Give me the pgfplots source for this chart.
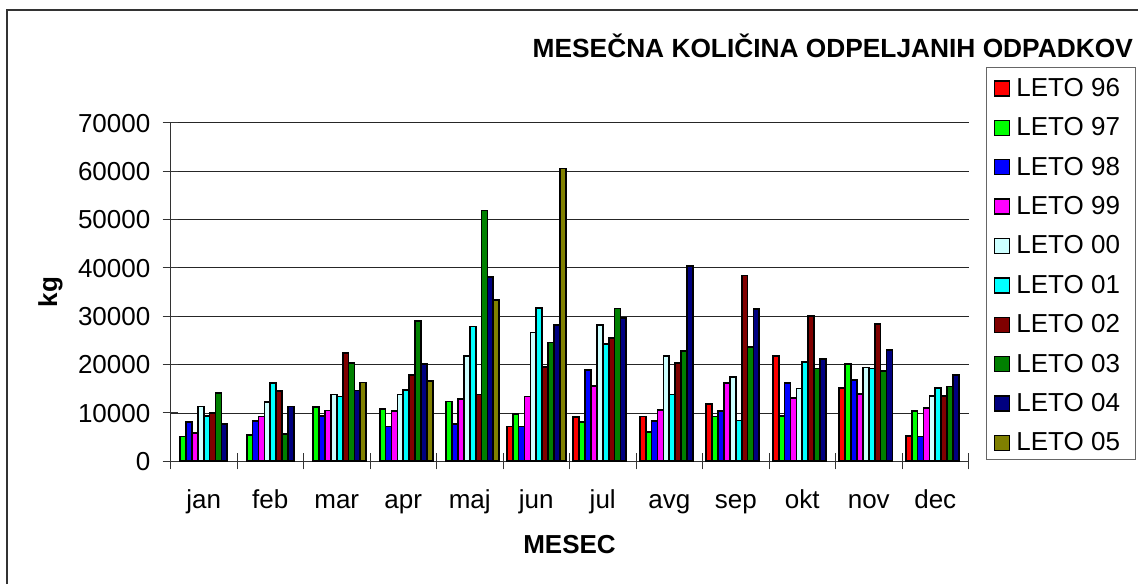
\documentclass[border=0pt]{standalone}
\usepackage{fontspec}
\setmainfont{Liberation Sans}
\usepackage{pgfplots}
\pgfplotsset{compat=1.18}
\definecolor{c96}{RGB}{255,0,0}
\definecolor{c97}{RGB}{0,255,0}
\definecolor{c98}{RGB}{0,0,255}
\definecolor{c99}{RGB}{255,0,255}
\definecolor{c00}{RGB}{204,255,255}
\definecolor{c01}{RGB}{0,255,255}
\definecolor{c02}{RGB}{128,0,0}
\definecolor{c03}{RGB}{0,128,0}
\definecolor{c04}{RGB}{0,0,128}
\definecolor{c05}{RGB}{128,128,0}
\pgfplotsset{mybar/.style={fill=#1, draw=black, line width=1.7pt,
  legend image code/.code={\draw[fill=#1,draw=black,line width=1.5pt] (0pt,-9pt) rectangle (15pt,6pt);}}}
\begin{document}
\begin{tikzpicture}[x=1pt,y=1pt,font=\fontsize{26}{31}\selectfont]
\useasboundingbox (0,0) rectangle (1138,584);
\draw[line width=1.5pt,black!80] (7,0) -- (7,574) -- (1138,574);
\node[anchor=base east,font=\fontsize{26.3}{31}\selectfont\bfseries,inner sep=0pt] at (1133,526.5) {MESEČNA KOLIČINA ODPELJANIH ODPADKOV};
\draw[black!60, line width=1pt] (986.7,124) rectangle (1135,516.7);
\begin{axis}[
  at={(170.5pt,122.7pt)}, anchor=south west,
  scale only axis, width=798pt, height=338.6pt,
  xmin=-0.5, xmax=11.5, ymin=0, ymax=70000,
  ybar=0pt, bar width=0.0887,
  axis x line*=bottom, axis y line*=left,
  axis line style={-, line width=1pt, black!80},
  xtick={0,...,11},
  xticklabels={jan,feb,mar,apr,maj,jun,jul,avg,sep,okt,nov,dec},
  major x tick style={draw=none},
  minor xtick={-0.5,0.5,...,11.5},
  minor tick length=16pt, major tick length=16pt, tick align=center,
  tick style={black!80, line width=1pt},
  ytick={0,10000,...,70000},
  ymajorgrids, major grid style={black!85, line width=0.8pt},
  scaled y ticks=false,
  /pgf/number format/assume math mode=true,
  yticklabel style={/pgf/number format/1000 sep={}, anchor=base east, inner sep=0pt, xshift=-12pt, yshift=-9.3pt},
  xticklabel style={anchor=base, inner sep=0pt, yshift=-39pt},
  tick label style={font=\fontsize{26}{31}\selectfont},
  xlabel={MESEC}, ylabel={kg},
  xlabel style={font=\fontsize{26}{31}\selectfont\bfseries, at={(axis description cs:0.5,-0.247)}, anchor=center},
  ylabel style={font=\fontsize{26}{31}\selectfont\bfseries, at={(axis description cs:-0.1504,0.5)}, anchor=center},
  legend cell align=left,
  legend style={at={(1.0228,1.1556)}, anchor=north west, draw=none, fill=none,
    inner xsep=7pt, inner ysep=-3pt, row sep=0pt,
    nodes={inner xsep=6pt, inner ysep=2pt, text height=27pt, text depth=8.4pt},
    font=\fontsize{26}{31}\selectfont},
]
\addplot[mybar=c96] coordinates {(5,7170) (6,9100) (7,9240) (8,11860) (9,21790) (10,15100) (11,5240)};
\addplot[mybar=c97] coordinates {(0,5100) (1,5450) (2,11170) (3,10760) (4,12340) (5,9790) (6,8140) (7,6070) (8,9240) (9,9380) (10,20070) (11,10340)};
\addplot[mybar=c98] coordinates {(0,8070) (1,8400) (2,9380) (3,7170) (4,7720) (5,7170) (6,18900) (7,8280) (8,10340) (9,16140) (10,16830) (11,5100)};
\addplot[mybar=c99] coordinates {(0,5800) (1,9240) (2,10480) (3,10340) (4,12830) (5,13380) (6,15590) (7,10620) (8,16140) (9,13030) (10,13860) (11,11030)};
\addplot[mybar=c00] coordinates {(0,11300) (1,12280) (2,13790) (3,13790) (4,21790) (5,26620) (6,28140) (7,21790) (8,17380) (9,15030) (10,19380) (11,13520)};
\addplot[mybar=c01] coordinates {(0,9380) (1,16140) (2,13380) (3,14760) (4,27860) (5,31720) (6,24280) (7,13790) (8,8410) (9,20550) (10,19170) (11,15170)};
\addplot[mybar=c02] coordinates {(0,9930) (1,14480) (2,22350) (3,17860) (4,13790) (5,19450) (6,25520) (7,20280) (8,38410) (9,30070) (10,28410) (11,13520)};
\addplot[mybar=c03] coordinates {(0,14070) (1,5660) (2,20280) (3,28970) (4,51860) (5,24550) (6,31590) (7,22760) (8,23590) (9,19170) (10,18620) (11,15450)};
\addplot[mybar=c04] coordinates {(0,7720) (1,11310) (2,14620) (3,20140) (4,38070) (5,28140) (6,29660) (7,40410) (8,31450) (9,21100) (10,23030) (11,17860)};
\addplot[mybar=c05] coordinates {(2,16280) (3,16550) (4,33380) (5,60550)};
\legend{LETO 96,LETO 97,LETO 98,LETO 99,LETO 00,LETO 01,LETO 02,LETO 03,LETO 04,LETO 05}
\end{axis}
\end{tikzpicture}
\end{document}
